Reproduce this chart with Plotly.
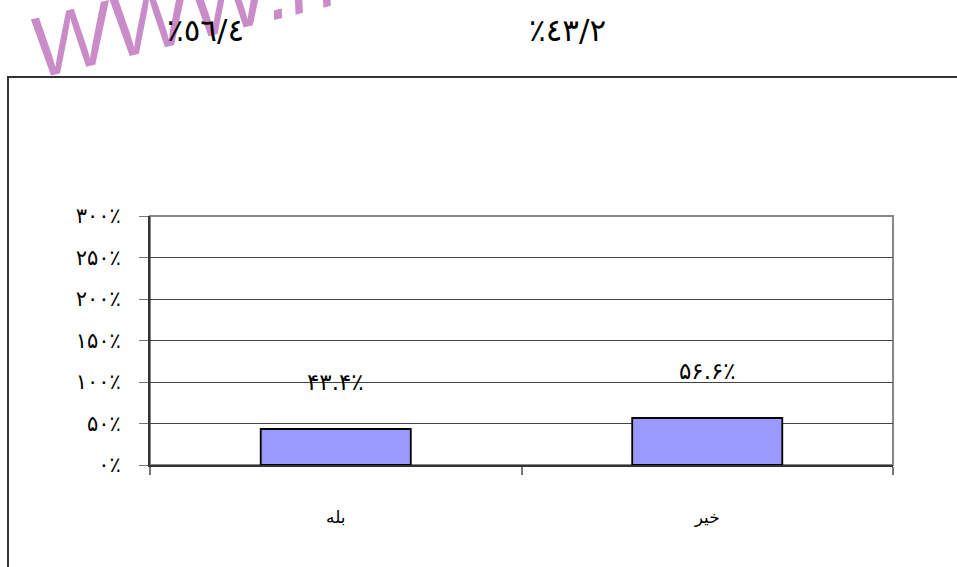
import plotly.graph_objects as go

categories = ["بله", "خير"]
values = [0.434, 0.566]
bar_labels = ["۴۳.۴٪", "۵۶.۶٪"]
y_tick_vals = [0, 0.5, 1.0, 1.5, 2.0, 2.5, 3.0]
y_tick_text = ["۰٪", "۵۰٪", "۱۰۰٪", "۱۵۰٪", "۲۰۰٪", "۲۵۰٪", "۳۰۰٪"]
top_texts = ["٪٥٦/٤", "٪٤٣/٢"]
watermark = "WWW.n"

W, H = 957, 567
L, R, T, B = 150, 64, 216, 102
PW, PH = W - L - R, H - T - B


def px(x):
    return (x - L) / PW


def py(y):
    return (H - B - y) / PH


FONT = "DejaVu Sans"

fig = go.Figure()
fig.add_trace(go.Bar(
    x=categories, y=values,
    marker=dict(color="#9999FF", line=dict(color="#000000", width=1.8)),
    hoverinfo="skip",
))

for c, v, t in zip(categories, values, bar_labels):
    fig.add_annotation(x=c, y=v, text=t, showarrow=False, yshift=47,
                       xanchor="center", yanchor="middle",
                       font=dict(family=FONT, size=23, color="#000000"))

# watermark
fig.add_annotation(xref="paper", yref="paper", x=px(182), y=py(12), text=watermark,
                   showarrow=False, textangle=-14, xanchor="center", yanchor="middle",
                   font=dict(family="Liberation Sans", size=86, color="#C98CC9", style="italic"))

# top texts
for xx, t in zip([205, 567], top_texts):
    fig.add_annotation(xref="paper", yref="paper", x=px(xx), y=py(30), text=t,
                       showarrow=False, xanchor="center", yanchor="middle",
                       font=dict(family=FONT, size=31, color="#000000"))

# outer frame
fig.add_shape(type="rect", xref="paper", yref="paper",
              x0=px(8), x1=px(1000), y0=py(620), y1=py(77),
              line=dict(color="#333333", width=2), fillcolor="rgba(0,0,0,0)", layer="below")
# plot area border (top/right)
fig.add_shape(type="rect", xref="paper", yref="paper", x0=0, x1=1, y0=0, y1=1,
              line=dict(color="#888888", width=2), fillcolor="rgba(0,0,0,0)", layer="below")

fig.update_layout(
    width=W, height=H, autosize=False,
    margin=dict(l=L, r=R, t=T, b=B, pad=0),
    paper_bgcolor="white", plot_bgcolor="white",
    showlegend=False, bargap=0.596,
    font=dict(family=FONT, color="#000000"),
)
fig.update_xaxes(
    showline=True, linecolor="#333333", linewidth=2,
    ticks="outside", tickson="boundaries", ticklen=8, tickcolor="#777777", tickwidth=2,
    showgrid=False, tickfont=dict(family=FONT, size=17, color="#000000"),
    ticklabelstandoff=36,
)
fig.update_yaxes(
    range=[0, 3], tickvals=y_tick_vals, ticktext=y_tick_text,
    showline=True, linecolor="#333333", linewidth=2,
    ticks="outside", ticklen=9, tickcolor="#777777", tickwidth=1,
    showgrid=True, gridcolor="#444444", gridwidth=1, zeroline=False,
    tickfont=dict(family=FONT, size=21, color="#000000"),
    ticklabelstandoff=14,
)

fig.write_html("out.html", config={"displayModeBar": False},
               post_script="document.body.style.margin='0';document.body.style.overflow='hidden';")
